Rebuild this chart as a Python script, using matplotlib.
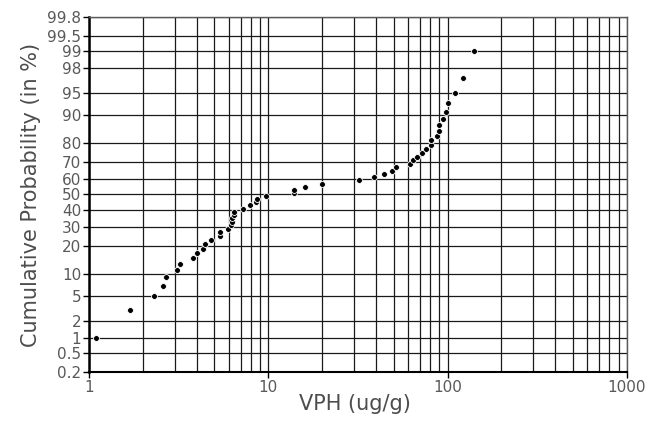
from statistics import NormalDist
import numpy as np
import matplotlib.pyplot as plt

# VPH concentrations (ug/g), sorted
vph = [1.10, 1.70, 2.30, 2.59, 2.70, 3.10, 3.21, 3.81, 4.01, 4.30,
       4.41, 4.80, 5.39, 5.39, 5.93, 6.19, 6.24, 6.30, 6.42, 6.47,
       7.22, 7.86, 8.49, 8.65, 9.74, 14.0, 14.0, 16.0, 20.0, 32.1,
       39.1, 44.1, 49.3, 51.9, 61.6, 63.8, 67.7, 71.9, 76.3, 80.4,
       81.2, 86.8, 89.1, 89.1, 93.8, 97.8, 100.4, 110.5, 121.3, 140.3]
# cumulative probability (%) of each sample
cum_prob = [1, 3, 5, 7, 9, 11, 13, 15, 17, 19,
            21, 23, 25, 27, 29, 31, 33, 35, 37, 39,
            41, 43, 45, 47, 49, 51, 53, 55, 57, 59,
            61, 63, 65, 67, 69, 71, 73, 75, 77, 79,
            81, 83, 85, 87, 89, 91, 93, 95, 97, 99]

prob_ticks = [0.2, 0.5, 1, 2, 5, 10, 20, 30, 40, 50, 60, 70, 80, 90,
              95, 98, 99, 99.5, 99.8]
prob_labels = ["0.2", "0.5", "1", "2", "5", "10", "20", "30", "40", "50",
               "60", "70", "80", "90", "95", "98", "99", "99.5", "99.8"]
x_ticks = [1, 10, 100, 1000]
x_labels = ["1", "10", "100", "1000"]

nd = NormalDist()


def probit(p):
    return np.array([nd.inv_cdf(v / 100.0) for v in p])


plt.rcParams["font.family"] = ["DejaVu Sans"]

fig = plt.figure(figsize=(6.57, 4.24), dpi=100)
ax = fig.add_axes([0.1355, 0.1226, 0.8185, 0.8374])

ax.set_xscale("log")
ax.set_xlim(1, 1000)
zt = probit(prob_ticks)
ax.set_ylim(zt[0], zt[-1])

# grid lines
for z in zt:
    ax.axhline(z, color="0.1", lw=0.9, zorder=1)
for dec in [1, 10, 100]:
    for m in range(1, 10):
        ax.axvline(dec * m, color="0.1", lw=0.9, zorder=1)
ax.axvline(1000, color="0.1", lw=0.9, zorder=1)

ax.scatter(vph, probit(cum_prob), s=18, color="black", edgecolors="white",
           linewidths=0.6, zorder=3)

ax.set_yticks(zt)
ax.set_yticklabels(prob_labels)
ax.set_xticks(x_ticks)
ax.set_xticklabels(x_labels)
ax.minorticks_off()
ax.tick_params(axis="both", which="major", length=4, width=1, labelsize=11,
               pad=1.5, colors="black", labelcolor="0.35")

for side in ["top", "right"]:
    ax.spines[side].set_linewidth(1.0)
    ax.spines[side].set_color("0.35")
ax.spines["left"].set_linewidth(1.8)
ax.spines["bottom"].set_linewidth(1.5)

ax.set_xlabel("VPH (ug/g)", fontsize=15, color="0.3")
ax.set_ylabel("Cumulative Probability (in %)", fontsize=15, color="0.3")
ax.xaxis.set_label_coords(0.495, -0.062)
ax.yaxis.set_label_coords(-0.09, 0.5)

fig.savefig("out.png", dpi=100)
